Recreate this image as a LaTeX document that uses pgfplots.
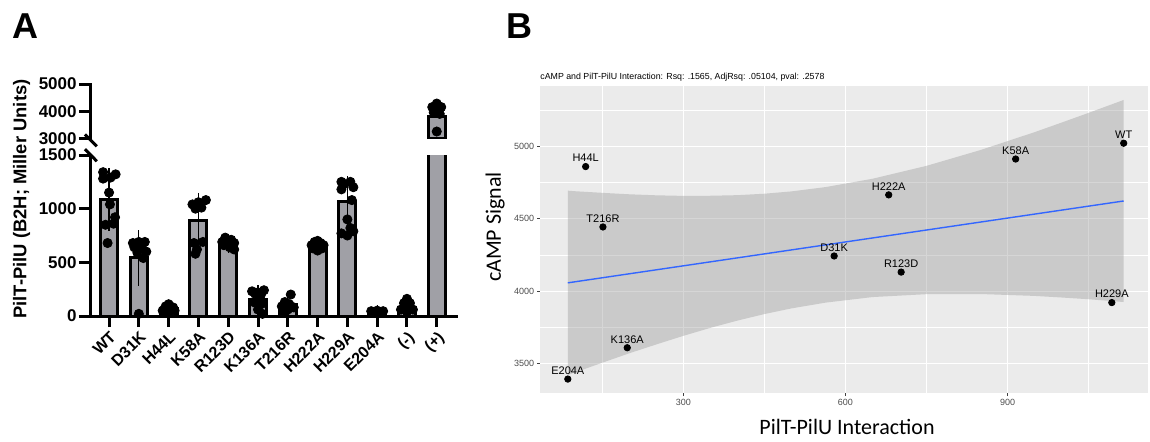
\documentclass[border=0pt]{standalone}
\usepackage{pgfplots}
\pgfplotsset{compat=1.18}
\usepackage{fontspec}
\setmainfont{Liberation Sans}
\newfontfamily\carlito{Carlito}
\definecolor{barfill}{RGB}{160,160,166}
\definecolor{ggbg}{RGB}{235,235,235}
\definecolor{ggribbon}{RGB}{153,153,153}
\definecolor{ggline}{RGB}{51,102,255}
\definecolor{ggtick}{RGB}{77,77,77}
\pgfplotsset{/pgf/number format/1000 sep={}}
\begin{document}
\begin{tikzpicture}
\path[use as bounding box] (0,0) rectangle (575pt,-220.5pt);
% ---------------- Panel A, lower segment
\begin{axis}[
  at={(45pt,-158pt)}, anchor=south west,
  width=183.35pt, height=80.5pt, scale only axis,
  xmin=-0.64, xmax=11.67, ymin=0, ymax=1500,
  axis x line*=bottom, axis y line*=left,
  axis line style={line width=1.5pt,-,line cap=rect},
  every outer x axis line/.append style={-},
  every outer y axis line/.append style={-},
  xtick={0,...,11},
  xticklabels={WT,D31K,H44L,K58A,R123D,K136A,T216R,H222A,H229A,E204A,(-),(+)},
  ytick={0,500,1000,1500},
  tick style={line width=1.5pt,black},
  major tick length=5.5pt,
  tick align=outside,
  scaled ticks=false,
  xticklabel style={rotate=45,anchor=north east,font=\bfseries\fontsize{8}{9}\selectfont,inner sep=1pt},
  yticklabel style={font=\bfseries\fontsize{8.5}{9}\selectfont,inner sep=1pt},
  /pgf/number format/assume math mode=true,
]
\addplot[ybar,bar width=8.5pt,fill=barfill,draw=black,line width=1.5pt] coordinates {
 (0,1088) (1,541) (2,70) (3,890) (4,672) (5,150) (6,105) (7,645) (8,1071) (9,40) (10,75) (11,3820)};
\addplot[only marks,mark=*,mark size=2.3pt,black] coordinates {
 (-0.2,1340) (0.22,1320) (-0.2,1280) (0.05,1290) (0.0,1150) (0.03,1040) (0.2,920) (-0.12,850) (0.15,860) (-0.05,680)
 (0.8,680) (1.0,690) (1.2,690) (0.85,640) (1.1,640) (1.25,600) (0.95,590) (1.15,540) (1.0,20)
 (1.85,60) (2.0,110) (2.15,80) (1.9,90) (2.1,60) (2.2,50) (1.8,50) (2.0,40)
 (2.8,1040) (3.0,1060) (3.25,1080) (2.9,1000) (3.1,1010) (2.85,680) (3.15,690) (2.95,620) (2.9,580)
 (3.9,730) (4.1,710) (3.8,690) (4.2,680) (4.0,670) (3.85,660) (4.15,650) (4.05,640) (4.2,620)
 (4.8,230) (5.2,240) (5.0,220) (4.9,210) (5.1,200) (4.85,130) (5.1,110) (5.0,60) (5.15,20)
 (6.1,200) (5.9,130) (6.05,110) (5.8,90) (6.2,80) (6.0,60) (5.9,30)
 (7.0,700) (6.9,690) (7.1,680) (6.8,660) (7.2,660) (7.0,650) (6.85,630) (7.15,630) (7.0,610)
 (7.8,1250) (8.1,1250) (7.9,1230) (8.2,1200) (7.8,1180) (8.15,1080) (8.0,900) (8.1,820) (7.8,770) (8.2,790) (8.0,750)
 (8.8,45) (9.0,50) (9.2,45) (8.9,35) (9.1,35) (9.0,30)
 (10.0,160) (9.9,120) (10.1,120) (10.0,90) (9.8,60) (10.2,60) (10.0,40)};
\addplot[draw=none,mark=none,error bars/.cd,y dir=both,y explicit,
  error bar style={line width=0.6pt,black},
  error mark options={mark size=2.8pt,line width=0.6pt,black}] coordinates {
 (0,1088) +- (0,240) (1,541) +- (0,205) (2,70) +- (0,25) (3,890) +- (0,204)
 (4,672) +- (0,30) (5,150) +- (0,85) (6,105) +- (0,55) (7,645) +- (0,25)
 (8,1071) +- (0,180) (9,40) +- (0,8) (10,75) +- (0,45)};
\end{axis}
% ---------------- Panel A, upper segment
\begin{axis}[
  at={(45pt,-69.15pt)}, anchor=south west,
  width=183.35pt, height=27.15pt, scale only axis,
  xmin=-0.64, xmax=11.67, ymin=3000, ymax=5000,
  axis x line=none, axis y line*=left,
  axis line style={line width=1.5pt,-,line cap=rect},
  every outer y axis line/.append style={-},
  ytick={3000,4000,5000},
  tick style={line width=1.5pt,black},
  major tick length=5.5pt,
  tick align=outside,
  scaled ticks=false,
  yticklabel style={font=\bfseries\fontsize{8.5}{9}\selectfont,inner sep=1pt},
  /pgf/number format/assume math mode=true,
]
\addplot[ybar,bar width=8.5pt,fill=barfill,draw=black,line width=1.5pt] coordinates {(11,3820)};
\addplot[only marks,mark=*,mark size=2.3pt,black] coordinates {
 (11.0,4280) (10.85,4150) (11.15,4150) (11.05,4050) (10.9,3950) (11.1,3900) (11.0,3250)};
\end{axis}
% axis break marks
\draw[line width=1.5pt] (42.5pt,-67.2pt) -- (48.4pt,-73.2pt);
\draw[line width=1.5pt] (42.5pt,-74.6pt) -- (48.4pt,-80.6pt);
\node[rotate=90,font=\bfseries\fontsize{9.2}{10}\selectfont] at (10.85pt,-99.5pt) {PilT-PilU (B2H; Miller Units)};
\node[anchor=base west,inner sep=0,font=\bfseries\fontsize{18}{20}\selectfont] at (6pt,-19pt) {A};
\node[anchor=base west,inner sep=0,font=\bfseries\fontsize{18}{20}\selectfont] at (253pt,-19pt) {B};
% ---------------- Panel B
\begin{axis}[
  at={(270pt,-196.5pt)}, anchor=south west,
  width=304pt, height=153.5pt, scale only axis,
  xmin=34.5, xmax=1160, ymin=3299, ymax=5414,
  axis line style={draw=none},
  axis background/.style={fill=ggbg},
  xtick={300,600,900}, ytick={3500,4000,4500,5000},
  minor xtick={150,450,750,1050}, minor ytick={3750,4250,4750,5250},
  grid=both,
  major grid style={white,line width=0.55pt},
  minor grid style={white,line width=0.28pt},
  tick pos=left, tick align=outside,
  major tick length=1.5pt, minor tick length=0pt,
  tick style={black!75,line width=0.4pt},
  scaled ticks=false,
  ticklabel style={font=\fontsize{4.5}{5}\selectfont,text=ggtick,inner sep=1.2pt},
  /pgf/number format/assume math mode=true,
]
\addplot[draw=none,fill=ggribbon,fill opacity=0.4] coordinates {
 (86,4693) (100,4689) (150,4678) (200,4668) (250,4661) (300,4657) (350,4658) (400,4662) (450,4672) (500,4688)
 (563.7,4718) (650,4775) (750,4864) (850,4973) (950,5096) (1000,5162) (1050,5229) (1115,5318)
 (1115,3926) (1050,3945) (1000,3957) (950,3968) (850,3981) (750,3980) (650,3960) (563.7,3922)
 (500,3882) (450,3843) (400,3798) (350,3748) (300,3693) (250,3634) (200,3573) (150,3508) (100,3442) (86,3423)} -- cycle;
\addplot[ggline,line width=0.7pt] coordinates {(86,4058) (1115,4622)};
\addplot[only marks,mark=*,mark size=1.6pt,black,
  nodes near coords,point meta=explicit symbolic,
  nodes near coords style={font=\fontsize{5.5}{6}\selectfont,text=black,anchor=south,yshift=1.6pt,inner sep=0.5pt}]
  table[meta=label] {
x y label
86 3395 E204A
196 3611 K136A
151 4443 T216R
119 4859 H44L
579 4243 D31K
680 4664 H222A
703 4132 R123D
915 4911 K58A
1115 5020 WT
1093 3922 H229A
};
\end{axis}
\node[anchor=base west,inner sep=0,font=\fontsize{4.4}{5}\selectfont] at (270pt,-39.8pt) {cAMP and PilT-PilU Interaction: Rsq: .1565, AdjRsq: .05104, pval: .2578};
\node[font=\carlito\fontsize{11}{12}\selectfont] at (423.5pt,-213.5pt) {PilT-PilU Interaction};
\node[rotate=90,font=\carlito\fontsize{11}{12}\selectfont] at (247.5pt,-113.5pt) {cAMP Signal};
\end{tikzpicture}
\end{document}
